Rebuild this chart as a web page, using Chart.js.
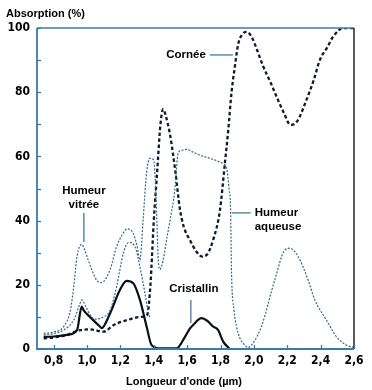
<!DOCTYPE html>
<html><head><meta charset="utf-8">
<script src="https://cdn.jsdelivr.net/npm/chart.js@4.4.1/dist/chart.umd.min.js"></script>
<style>html,body{margin:0;padding:0;background:#fff}#wrap{width:372px;height:390px}</style>
</head><body><div id="wrap"><canvas id="c" width="372" height="390"></canvas></div>
<script>
// ---- data (wavelength in µm, absorption in %) ----
const corneeX = [0.74,0.80,0.88,0.96,1.02,1.10,1.16,1.24,1.32,1.36,1.38,1.40,1.42,1.44,1.456,1.47,1.50,1.53,1.556,1.58,1.616,1.656,1.69,1.72,1.756,1.796,1.826,1.846,1.866,1.886,1.906,1.93,1.956,1.986,2.02,2.056,2.10,2.136,2.18,2.22,2.26,2.315,2.36,2.395,2.44,2.475,2.535,2.60];
const corneeY = [3.3,3.6,4.4,5.9,6.1,5.4,7.5,9.0,10.0,10.6,20,40,55,70,74.7,73,66,55,43.8,38,34,30.3,28.8,29.5,34,43,57.8,68,80,88,95,98,98.8,97.3,93,88,83,78.6,73.5,69.8,71,77.6,84,90,94,97.3,100,100];

const vitreeX = [0.74,0.80,0.86,0.90,0.92,0.94,0.968,0.985,1.007,1.057,1.087,1.137,1.177,1.21,1.24,1.277,1.30,1.317,1.337,1.357,1.377,1.40,1.415,1.427,1.437,1.456,1.48,1.497,1.526,1.546,1.566,1.596,1.636,1.676,1.736,1.806,1.836,1.852,1.86,1.866,1.881,1.896,1.915,1.935,1.965,1.99,2.045,2.125,2.185,2.215,2.265,2.325,2.365,2.435,2.495,2.555,2.60];
const vitreeY = [4.9,5.3,7,12,19.4,28.8,32.6,31,27.7,21.5,20.7,24.6,31.9,35.5,37.4,36,32,27.7,41,55,59.4,58.9,45,27.7,24.8,27.7,35,40,49.5,61,61.8,62.2,61.3,60.4,59.4,58,56.3,49.5,44,23.6,12,7,3.5,1.8,0.5,1.5,7,21.5,30.8,31.4,28.8,21.5,15.3,9,3.8,1.2,0.5];

const aqueuseX = [0.74,0.80,0.86,0.92,0.95,0.97,0.99,1.02,1.047,1.09,1.137,1.177,1.217,1.25,1.287,1.317,1.347,1.365,1.377];
const aqueuseY = [4.4,4.8,5.9,9,13,15.3,13.5,10.5,9.3,9.8,12,19.4,29.8,33.2,31.9,25.6,17.4,12,9.6];

const cristallinX = [0.74,0.80,0.88,0.94,0.968,0.98,1.017,1.077,1.087,1.137,1.197,1.237,1.277,1.317,1.357,1.387,1.437,1.537,1.587,1.617,1.636,1.686,1.72,1.756,1.786,1.816,1.852];
const cristallinY = [3.8,3.9,4.4,5.9,13.2,12,10,7.0,6.5,11,18.4,21.2,20.5,15.3,7,1.2,0.2,0.2,3.8,6.4,7.5,9.6,8.8,7,5.9,2.3,0.2];

const xTickValues = [0.8,1.0,1.2,1.4,1.6,1.8,2.0,2.2,2.4,2.6];
const yTickValues = [0,10,20,30,40,50,60,70,80,90,100];
const yLabelValues = [0,20,40,60,80,100];

const yTitle = 'Absorption (%)';
const xTitle = "Longueur d'onde (µm)";

// annotation labels (data coordinates)
const notes = [
  {lines:['Cornée'], x:1.712, y:91.6, align:'right', lead:[[1.736,91.6],[1.874,91.6]]},
  {lines:['Humeur','vitrée'], x:0.981, y:49.2, align:'center', lead:[[0.981,42.4],[0.981,33.3]]},
  {lines:['Humeur','aqueuse'], x:2.005, y:42.4, align:'left', lead:[[1.868,42.4],[1.981,42.4]]},
  {lines:['Cristallin'], x:1.64, y:18.7, align:'center', lead:[[1.622,15.3],[1.622,8.1]]}
];

const zip = (xs, ys) => xs.map((x, i) => ({x, y: ys[i]}));

const BLUE = '#3a7ca5';
const DOT = '#2d6a8c';
const LABEL_FONT = "bold 12px 'Liberation Sans Narrow', 'DejaVu Sans Condensed', sans-serif";

const framePlugin = {
  id: 'frame',
  afterDatasetsDraw(chart) {
    const {ctx, chartArea: a, scales: {x, y}} = chart;
    ctx.save();
    // frame
    ctx.lineWidth = 1.3;
    ctx.strokeStyle = BLUE;
    ctx.beginPath(); ctx.moveTo(a.left, a.top); ctx.lineTo(a.right, a.top); ctx.stroke();
    ctx.strokeStyle = '#000';
    ctx.beginPath(); ctx.moveTo(a.right, a.top); ctx.lineTo(a.right, a.bottom); ctx.stroke();
    ctx.strokeStyle = BLUE;
    ctx.lineWidth = 1.8;
    ctx.beginPath(); ctx.moveTo(a.left, a.top); ctx.lineTo(a.left, a.bottom); ctx.lineTo(a.right, a.bottom); ctx.stroke();
    // inward ticks
    ctx.lineWidth = 1.3;
    yTickValues.forEach(v => {
      const py = Math.round(y.getPixelForValue(v)) + 0.5;
      ctx.beginPath(); ctx.moveTo(a.left, py); ctx.lineTo(a.left + 4, py); ctx.stroke();
    });
    xTickValues.forEach(v => {
      const px = Math.round(x.getPixelForValue(v)) + 0.5;
      ctx.beginPath(); ctx.moveTo(px, a.bottom); ctx.lineTo(px, a.bottom - 4); ctx.stroke();
    });
    // annotations
    ctx.font = "bold 11.5px 'Liberation Sans', Arial, sans-serif";
    ctx.fillStyle = '#000';
    ctx.textBaseline = 'middle';
    notes.forEach(n => {
      ctx.textAlign = n.align;
      const px = x.getPixelForValue(n.x);
      const py = y.getPixelForValue(n.y);
      n.lines.forEach((t, i) => ctx.fillText(t, px, py + i * 14));
      ctx.strokeStyle = BLUE;
      ctx.lineWidth = 1.3;
      ctx.beginPath();
      ctx.moveTo(x.getPixelForValue(n.lead[0][0]), y.getPixelForValue(n.lead[0][1]));
      ctx.lineTo(x.getPixelForValue(n.lead[1][0]), y.getPixelForValue(n.lead[1][1]));
      ctx.stroke();
    });
    // titles
    ctx.font = "bold 11px 'Liberation Sans', Arial, sans-serif";
    ctx.textBaseline = 'alphabetic';
    ctx.textAlign = 'left';
    ctx.fillText(yTitle, 6, 17);
    ctx.textAlign = 'center';
    ctx.fillText(xTitle, 184, 385);
    ctx.restore();
  }
};

new Chart(document.getElementById('c'), {
  type: 'line',
  data: {
    datasets: [
      {label: 'Humeur vitrée', data: zip(vitreeX, vitreeY), borderColor: DOT, borderWidth: 1.2, borderDash: [2, 1.5], tension: 0.4, cubicInterpolationMode: 'monotone'},
      {label: 'Humeur aqueuse', data: zip(aqueuseX, aqueuseY), borderColor: DOT, borderWidth: 1.2, borderDash: [2, 1.5], cubicInterpolationMode: 'monotone'},
      {label: 'Cristallin', data: zip(cristallinX, cristallinY), borderColor: '#0a0f1a', borderWidth: 2.2, cubicInterpolationMode: 'monotone'},
      {label: 'Cornée', data: zip(corneeX, corneeY), borderColor: '#0d1b2a', borderWidth: 2.3, borderDash: [3.5, 2.5], cubicInterpolationMode: 'monotone'}
    ]
  },
  options: {
    responsive: false,
    animation: false,
    devicePixelRatio: 1,
    layout: {padding: {top: 28, right: 18, left: 0, bottom: 0}},
    elements: {point: {radius: 0, hoverRadius: 0}},
    plugins: {legend: {display: false}, tooltip: {enabled: false}},
    scales: {
      x: {
        type: 'linear', min: 0.7, max: 2.6,
        afterBuildTicks: s => { s.ticks = xTickValues.map(v => ({value: v})); },
        afterFit: s => { s.height = 41; },
        grid: {display: false, drawTicks: false},
        border: {display: false},
        ticks: {
          padding: 5, color: '#000', maxRotation: 0, autoSkip: false,
          font: {family: "'Liberation Sans Narrow', 'DejaVu Sans Condensed', sans-serif", size: 12, weight: 'bold'},
          callback: v => v.toFixed(1).replace('.', ',')
        }
      },
      y: {
        min: 0, max: 100,
        afterBuildTicks: s => { s.ticks = yLabelValues.map(v => ({value: v})); },
        afterFit: s => { s.width = 37; },
        grid: {display: false, drawTicks: false},
        border: {display: false},
        ticks: {
          padding: 7, color: '#000',
          font: {family: "'Liberation Sans Narrow', 'DejaVu Sans Condensed', sans-serif", size: 12, weight: 'bold'},
          callback: v => String(v)
        }
      }
    }
  },
  plugins: [framePlugin]
});
</script></body></html>
